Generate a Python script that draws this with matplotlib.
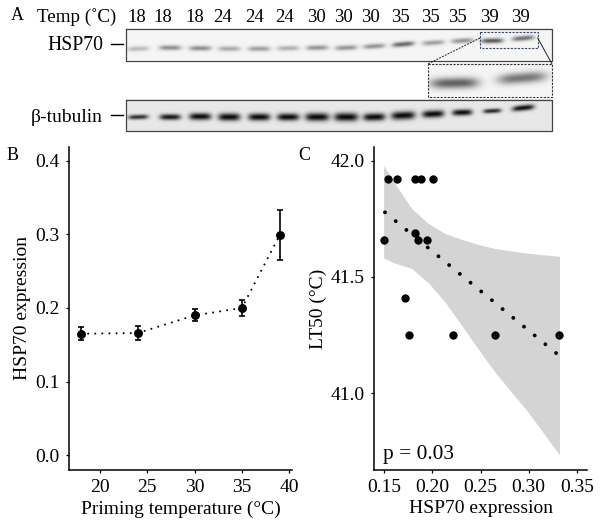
import numpy as np
import matplotlib
matplotlib.use('Agg')
import matplotlib.pyplot as plt

plt.rcParams['font.family'] = ['Liberation Serif', 'DejaVu Serif']
W, H = 600, 524

# panel A, lanes
lane_temps = [18, 18, 18, 24, 24, 24, 30, 30, 30, 35, 35, 35, 39, 39]
lane_label_x = [137, 163, 195, 223, 254, 285, 316, 343, 370, 400, 430, 457, 489, 520]
lane_x = [138, 170, 200, 229, 259, 288, 317, 346, 374, 403, 433, 462, 492, 523]
hsp_y = [49, 48, 48.5, 49, 49, 48.5, 48, 48, 46.5, 44.5, 43, 41, 41, 38.5]
hsp_dark = [0.25, 0.45, 0.45, 0.33, 0.38, 0.3, 0.42, 0.42, 0.42, 0.62, 0.38, 0.42, 0.68, 0.58]
hsp_tilt = [-0.03, 0, 0, 0, 0, -0.02, -0.02, -0.04, -0.06, -0.08, -0.06, -0.06, -0.02, -0.08]
tub_y = [117, 117, 116.5, 117, 117, 117, 117, 117, 117, 115.5, 114, 112.5, 111, 108]
tub_dark = [0.85, 0.95, 1, 1, 1, 1, 1, 1, 1, 1, 1, 1, 0.9, 1]
tub_hw = [10, 10.5, 11, 11, 11, 11, 12, 12, 11, 12, 11, 10, 9, 11]
tub_sd = [1.6, 2, 2.4, 2.6, 2.5, 2.5, 2.8, 2.9, 2.6, 2.8, 2.5, 2.1, 1.5, 1.9]
tub_tilt = [-0.03, 0, 0, 0, 0, 0, 0, 0, -0.02, -0.04, -0.04, -0.03, -0.05, -0.1]

# panel B
temps = [18, 24, 30, 35, 39]
hsp_mean = [0.165, 0.166, 0.190, 0.200, 0.299]
hsp_err = [0.009, 0.009, 0.008, 0.011, 0.034]

# panel C
hsp_expr = [0.1534, 0.1628, 0.1814, 0.1879, 0.2007, 0.1493, 0.1814, 0.1848, 0.1941,
            0.1717, 0.1759, 0.221, 0.2652, 0.332]
lt50 = [41.92, 41.92, 41.92, 41.92, 41.92, 41.66, 41.69, 41.66, 41.66,
        41.41, 41.25, 41.25, 41.25, 41.25]
fit_x = [0.1507, 0.3305]
fit_y = [41.778, 41.166]
band_x = [0.1493, 0.161, 0.1783, 0.1955, 0.2128, 0.23, 0.2472, 0.2645, 0.299, 0.332]
band_hi = [41.981, 41.903, 41.795, 41.731, 41.688, 41.662, 41.64, 41.623, 41.602, 41.589]
band_lo = [41.582, 41.559, 41.537, 41.476, 41.394, 41.294, 41.193, 41.093, 40.921, 40.735]


def blot(x0, x1, y0, y1, ys, darks, hws, sds, tilts, bg):
    # grey picture of a blot, one soft band per lane
    px, py = np.meshgrid(np.arange(x0, x1, 0.5), np.arange(y0, y1, 0.5))
    ink = np.zeros_like(px)
    for i in range(len(lane_x)):
        dx = px - lane_x[i]
        along = np.exp(-np.abs(dx / hws[i]) ** 4)
        across = np.exp(-((py - ys[i] - tilts[i] * dx) / sds[i]) ** 2 / 2)
        ink += darks[i] * along * across
    return bg * (1 - np.clip(ink, 0, 1)) + 0.03


def soften(img, n=5):
    kernel = np.ones(n) / n
    pad = np.pad(img, n, mode='edge')
    pad = np.apply_along_axis(np.convolve, 0, pad, kernel, mode='same')
    pad = np.apply_along_axis(np.convolve, 1, pad, kernel, mode='same')
    return pad[n:-n, n:-n]


fig = plt.figure(figsize=(6, 5.24), dpi=100)
bg = fig.add_axes([0, 0, 1, 1])
bg.axis('off')

hsp_img = blot(126, 552, 28.5, 60.5, hsp_y, hsp_dark, [11] * 14, [1.7] * 14, hsp_tilt, 0.93)
tub_img = blot(126, 552, 99.5, 130.7, tub_y, tub_dark, tub_hw, tub_sd, tub_tilt, 0.88)
gel = dict(cmap='gray', vmin=0, vmax=1, aspect='auto', interpolation='bilinear')
bg.imshow(soften(hsp_img, 3), extent=(126, 552, 60.5, 28.5), **gel)
bg.imshow(soften(tub_img, 3), extent=(126, 552, 130.7, 99.5), **gel)
# inset is the dashed part of the HSP70 blot, enlarged
r0, r1 = int((31.5 - 28.5) * 2), int((47.7 - 28.5) * 2)
c0, c1 = int((480 - 126) * 2), int((537.7 - 126) * 2)
bg.imshow(soften(hsp_img, 5)[r0:r1, c0:c1], extent=(427.7, 552, 96.5, 64), **gel)
bg.set_xlim(0, W)
bg.set_ylim(H, 0)

for x0, x1, y0, y1 in [(126, 552, 28.5, 60.5), (126, 552, 99.5, 130.7)]:
    bg.plot([x0, x1, x1, x0, x0], [y0, y0, y1, y1, y0], color='#444444', lw=0.9)
bg.plot([427.7, 552, 552, 427.7, 427.7], [64, 64, 96.5, 96.5, 64], color='#333333', lw=0.8, ls=(0, (2, 1.2)))
bg.plot([480, 537.7, 537.7, 480, 480], [31.5, 31.5, 47.7, 47.7, 31.5], color='#3a4a66', lw=0.8, ls=(0, (2, 1.2)))
bg.plot([480, 427.7], [38, 64], color='#222222', lw=0.7, ls=(0, (2, 1.2)))
bg.plot([537.7, 552], [38, 64], color='#222222', lw=0.7)
bg.plot([111, 123], [44, 44], color='black', lw=1)
bg.plot([111, 123], [115, 115], color='black', lw=1)

bg.text(17, 15, 'A', fontsize=13, ha='center', va='center')
bg.text(77, 17, 'Temp (˚C)', fontsize=13.7, ha='center', va='center')
for t, x in zip(lane_temps, lane_label_x):
    bg.text(x, 17, str(t), fontsize=13.5, ha='center', va='center')
bg.text(103, 46, 'HSP70', fontsize=14.2, ha='right', va='center')
bg.text(103, 117, 'β-tubulin', fontsize=14, ha='right', va='center', family=['Liberation Serif', 'DejaVu Sans'])
bg.text(13, 156, 'B', fontsize=13, ha='center', va='center')
bg.text(304, 156, 'C', fontsize=13, ha='center', va='center')

# panel B
ax_b = fig.add_axes([69 / W, 1 - 470 / H, (292 - 69) / W, (470 - 147) / H])
ax_b.plot(temps, hsp_mean, color='black', lw=1.5, ls=(0, (0.01, 3.4)), dash_capstyle='round')
ax_b.errorbar(temps, hsp_mean, yerr=hsp_err, fmt='o', color='black', ms=5.4, elinewidth=1.2,
              capsize=2.2, capthick=1.2)
ax_b.set_xlim(16.73, 40.3)
ax_b.set_ylim(-0.02, 0.4186)
ax_b.set_xticks([20, 25, 30, 35, 40])
ax_b.set_yticks([0.0, 0.1, 0.2, 0.3, 0.4])
ax_b.set_xlabel('Priming temperature (°C)', fontsize=14, labelpad=3)
ax_b.set_ylabel('HSP70 expression', fontsize=14, labelpad=3.5)

# panel C
ax_c = fig.add_axes([374 / W, 1 - 470 / H, (587.3 - 374) / W, (470 - 147) / H])
ax_c.fill_between(band_x, band_lo, band_hi, color='#d4d4d4', lw=0)
ax_c.plot(fit_x, fit_y, color='black', lw=2.8, ls=(0, (0.01, 3.55)), dash_capstyle='round')
ax_c.scatter(hsp_expr, lt50, s=36, color='black', lw=0, zorder=3)
ax_c.text(0.149, 40.735, 'p = 0.03', fontsize=15.4, ha='left', va='center')
ax_c.set_xlim(0.1393, 0.3609)
ax_c.set_ylim(40.67, 42.059)
ax_c.set_xticks([0.15, 0.20, 0.25, 0.30, 0.35])
ax_c.set_xticklabels(['0.15', '0.20', '0.25', '0.30', '0.35'])
ax_c.set_yticks([41.0, 41.5, 42.0])
ax_c.set_xlabel('HSP70 expression', fontsize=14, labelpad=3)
ax_c.set_ylabel('LT50 (°C)', fontsize=14, labelpad=2.5)

for ax in [ax_b, ax_c]:
    ax.patch.set_alpha(0)
    ax.spines['top'].set_visible(False)
    ax.spines['right'].set_visible(False)
    ax.spines['left'].set_linewidth(1.1)
    ax.spines['bottom'].set_linewidth(1.1)
    ax.tick_params(labelsize=14, length=2.5, width=0.9)
    ax.tick_params(axis='x', pad=4)
    ax.tick_params(axis='y', pad=4)

fig.savefig('out.png', dpi=100)
